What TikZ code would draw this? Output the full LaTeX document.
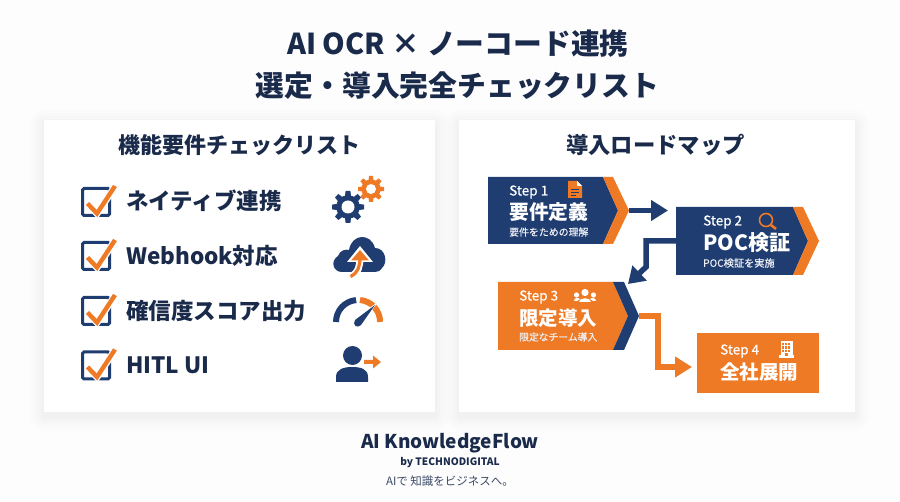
\documentclass[tikz,border=0pt]{standalone}
\usepackage{fontspec}
\setmainfont{Noto Sans CJK JP}
\newfontfamily\medf{Noto Sans CJK JP}[FakeBold=0.5]
\usetikzlibrary{arrows.meta,calc}
\definecolor{navy}{HTML}{1F3D70}
\definecolor{ink}{HTML}{1A2A4A}
\definecolor{orng}{HTML}{EE7A26}
\definecolor{pagebg}{HTML}{FDFDFE}
\tikzset{
  txt/.style={inner sep=0pt,outer sep=0pt,text=ink,font=\bfseries\fontsize{#1}{#1}\selectfont},
  wtxt/.style={inner sep=0pt,anchor=west,text=white,font=\bfseries\fontsize{#1}{#1}\selectfont},
  steptxt/.style={inner sep=0pt,anchor=west,text=white,font=\medf\fontsize{#1}{#1}\selectfont},
  stxt/.style={inner sep=0pt,anchor=west,text=white!92!navy,font=\medf\fontsize{#1}{#1}\selectfont},
  item/.style={txt=22.5,anchor=west},
  anchorbox/.style={minimum width=#1,inner sep=0pt,outer sep=0pt},
  panel/.style={fill=white},
  conn/.style={line width=5.5pt,line join=miter},
  chk/.pic={
    \draw[navy,line width=3pt,rounded corners=1.5pt] (0,0) rectangle (27,27);
    \draw[white,line width=7pt] (5.5,15.5) -- (14.5,25) -- (32.5,-2);
    \draw[orng,line width=4.4pt] (5,15) -- (14.5,25) -- (32.5,-2.5);
  },
}
\newcommand{\mygear}[5]{% x, y, r outer, colour, hole
  \begin{scope}[shift={(#1,#2)}]
    \fill[#4] (0,0) circle[radius=#3*0.74];
    \foreach \a in {0,45,...,315}{
      \fill[#4,rotate=\a] (#3*0.6,-#3*0.2) -- (#3,-#3*0.15) -- (#3,#3*0.15) -- (#3*0.6,#3*0.2) -- cycle;
    }
    \fill[white] (0,0) circle[radius=#5];
  \end{scope}
}
\begin{document}
\begin{tikzpicture}[x=1pt,y=-1pt]
\useasboundingbox (0,0) rectangle (900,502);
\fill[pagebg] (0,0) rectangle (900,502);
% soft panel shadows
\foreach \d/\o in {14/.008,11/.008,8/.009,5/.010,2/.012}{
  \fill[black,opacity=\o,rounded corners=\d pt] (44-\d,120-\d+4) rectangle (435+\d,412+\d+4);
  \fill[black,opacity=\o,rounded corners=\d pt] (459-\d,120-\d+4) rectangle (855+\d,412+\d+4);
}
\fill[panel] (44,120) rectangle (435,412);
\fill[panel] (459,120) rectangle (855,412);

% titles
\node[txt=28.8] (title1) at (458,44) {AI OCR × ノーコード連携};
\node[txt=28.8] (title2) at (457.5,86) {選定・導入完全チェックリスト};
\node[txt=22] (lefthead) at (239,145) {機能要件チェックリスト};
\node[txt=22.3] (righthead) at (655.5,145) {導入ロードマップ};

% check list
\pic at (82.5,188.5) {chk};
\pic at (82.5,242.5) {chk};
\pic at (82.5,297.5) {chk};
\pic at (82.5,352) {chk};
\node[item] (i1) at (126,201) {ネイティブ連携};
\node[item] (i2) at (126,256) {Webhook対応};
\node[item] (i3) at (126,311) {確信度スコア出力};
\node[item] (i4) at (126,365) {HITL UI};

% gears
\mygear{348}{207}{16}{navy}{6.5}
\mygear{371}{189}{13}{orng}{5}
% cloud
\fill[navy] (342,272)
  .. controls (333,272) and (330,261) .. (338,256)
  .. controls (340,250) and (346,249) .. (349,250)
  .. controls (352,233) and (371,233) .. (375,248)
  .. controls (386,248) and (388,263) .. (382,268)
  .. controls (380,271) and (378,272) .. (375,272) -- cycle;
\draw[white,line width=7pt] (352,276) .. controls (358,273) and (360,266) .. (360,258);
\fill[white] (347,262) -- (360,246) -- (373,262) -- cycle;
\draw[orng,line width=3.2pt] (350.5,276.5) .. controls (358,273) and (360,266) .. (360,258);
\fill[orng] (351,260.5) -- (360,250) -- (369,260.5) -- cycle;
% gauge
\draw[navy,line width=6pt] (336,322) arc[start angle=180,end angle=265,radius=22];
\draw[orng,line width=6pt] (360,300) arc[start angle=-85,end angle=0,radius=22];
\fill[white] (378,302) -- (360,326) -- (352,320) -- cycle;
\fill[navy] (375,305) -- (361,325) .. controls (357,329) and (352,325) .. (355,320) -- cycle;
% person
\fill[navy] (352.5,355.5) circle[radius=9.5];
\fill[navy] (336,382) -- (336,377) .. controls (336,369) and (344,367) .. (352,367)
  .. controls (361,367) and (368,369) .. (368,377) -- (368,382) -- cycle;
\fill[orng] (364,360) -- (373,360) -- (373,355.5) -- (381,362) -- (373,368.5) -- (373,364) -- (364,364) -- cycle;

% road map: anchor nodes spanning each step
\node[anchorbox=141pt,minimum height=67pt] (step1) at (558.5,210.5) {};
\node[anchorbox=143pt,minimum height=68pt] (step2) at (747.5,241) {};
\node[anchorbox=141pt,minimum height=68pt] (step3) at (568.5,316) {};
\node[anchorbox=122pt,minimum height=60pt,fill=orng] (step4) at (758,363) {};

\fill[navy] (488,177) -- (603,177) -- (618,210.5) -- (603,244) -- (488,244) -- cycle;
\fill[orng] (603,177) -- (613,177) -- (629,210.5) -- (613,244) -- (603,244) -- (618,210.5) -- cycle;
\fill[navy] (676,207) -- (793,207) -- (808,241) -- (793,275) -- (676,275) -- cycle;
\fill[orng] (793,207) -- (803,207) -- (819,241) -- (803,275) -- (793,275) -- (808,241) -- cycle;
\fill[orng] (498,282) -- (613,282) -- (628,316) -- (613,350) -- (498,350) -- cycle;
\fill[navy] (613,282) -- (624,282) -- (639,316) -- (624,350) -- (613,350) -- (628,316) -- cycle;

% connectors
\draw[conn,navy,-{Triangle[length=17pt,width=20pt]},shorten >=8pt] (step1.east) -- (step1.east -| step2.west);
\coordinate (bend2) at (646,267);
\coordinate (tip2) at (628,284);
\draw[conn,navy,-{Triangle[length=16pt,width=20pt]}] (step2.west) -| (bend2) -- (tip2);
\coordinate (elbow3) at (658,367);
\draw[conn,orng,-{Triangle[length=17pt,width=20pt]},shorten >=5pt] (step3.east) -| (elbow3) -- (elbow3 -| step4.west);

% step 1 text
\node[steptxt=13.5] (s1a) at (509,192) {Step 1};
\node[wtxt=19.8] (s1b) at (509,212) {要件定義};
\node[stxt=9.9] (s1c) at (509,232) {要件をための理解};
\fill[orng] (568,181) -- (577,181) -- (582,186) -- (582,198) -- (568,198) -- cycle;
\fill[white] (577,181) -- (582,186) -- (577,186) -- cycle;
\draw[navy,line width=.9pt] (571,189) -- (579,189) (571,192) -- (579,192) (571,195) -- (576,195);
% step 2 text
\node[steptxt=13.5] (s2a) at (703,222) {Step 2};
\node[wtxt=21] (s2b) at (703,243) {POC検証};
\node[stxt=10.2] (s2c) at (703,263) {POC検証を実施};
\draw[orng,line width=1.6pt] (766,220) circle[radius=6.5];
\draw[orng,line width=2.6pt] (771,225) -- (776,229);
% step 3 text
\node[steptxt=13.5] (s3a) at (519,297) {Step 3};
\node[wtxt=19.5] (s3b) at (519,318) {限定導入};
\node[stxt=9.8] (s3c) at (519,337) {限定なチーム導入};
\fill[white] (585,292.5) circle[radius=3.6];
\fill[white] (576.5,295) circle[radius=2.6];
\fill[white] (593.5,295) circle[radius=2.6];
\fill[white] (579,302) .. controls (579,297) and (591,297) .. (591,302) -- cycle;
\fill[white] (574,301) .. controls (574,298) and (578,297) .. (580,299) -- (577,301) -- cycle;
\fill[white] (596,301) .. controls (596,298) and (592,297) .. (590,299) -- (593,301) -- cycle;
% step 4 text
\node[steptxt=13.5] (s4a) at (720,351) {Step 4};
\node[wtxt=19.5] (s4b) at (720,372) {全社展開};
\fill[white] (779,355) -- (794,355) -- (794,358) -- (779,358) -- cycle;
\fill[white] (780.5,341) rectangle (792.5,356);
\foreach \cx in {782,785.2,788.4}{\foreach \cy in {343,346.5,350}{\fill[orng] (\cx,\cy) rectangle +(2,2.2);}}
\fill[orng] (785,353.5) rectangle (788,356);

% footer
\node[txt=19] (brand) at (450,443) {AI KnowledgeFlow};
\node[txt=10.2] (by) at (450,463) {by TECHNODIGITAL};
\node[inner sep=0pt,text=ink!85!white,font=\fontsize{11.5}{11.5}\selectfont] (tag) at (450,481) {AIで 知識をビジネスへ。};
\end{tikzpicture}
\end{document}
